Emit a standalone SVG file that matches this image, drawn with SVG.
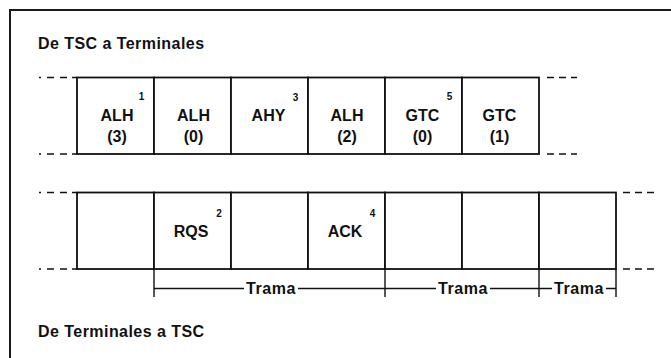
<svg xmlns="http://www.w3.org/2000/svg" width="671" height="358" viewBox="0 0 671 358">
  <style>
    .frame { stroke: #1a1a1a; stroke-width: 2; fill: none; }
    .cell { stroke: #111; stroke-width: 1.8; fill: #fff; }
    .dash { stroke: #111; stroke-width: 1.6; }
    .bracket { stroke: #111; stroke-width: 1.4; fill: none; }
    text { font-family: "Liberation Sans", Arial, sans-serif; font-weight: bold; fill: #111; }
    .title { font-size: 16px; letter-spacing: 0.45px; }
    .lbl { font-size: 16px; text-anchor: middle; }
    .sup { font-size: 10px; text-anchor: middle; }
    .trama { font-size: 16px; text-anchor: middle; letter-spacing: 0.6px; }
  </style>
  <rect width="671" height="358" fill="#fff"/>

  <!-- outer frame: top and left edges only -->
  <g id="frame">
    <path class="frame" d="M10 358 V10 H671"/>
  </g>

  <g id="title-downlink">
    <text class="title" x="38" y="49">De TSC a Terminales</text>
  </g>
  <g id="title-uplink">
    <text class="title" x="38" y="337">De Terminales a TSC</text>
  </g>

  <!-- downlink slots -->
  <g id="down-slot-1">
    <rect class="cell" x="77" y="77.5" width="77" height="76.5"/>
    <text class="lbl" x="117" y="121">ALH</text>
    <text class="lbl" x="117" y="142">(3)</text>
    <text class="sup" x="141.5" y="99.5">1</text>
  </g>
  <g id="down-slot-2">
    <rect class="cell" x="154" y="77.5" width="77" height="76.5"/>
    <text class="lbl" x="193.5" y="121">ALH</text>
    <text class="lbl" x="193.5" y="142">(0)</text>
  </g>
  <g id="down-slot-3">
    <rect class="cell" x="231" y="77.5" width="77" height="76.5"/>
    <text class="lbl" x="268.5" y="121">AHY</text>
    <text class="sup" x="295.5" y="100.5">3</text>
  </g>
  <g id="down-slot-4">
    <rect class="cell" x="308" y="77.5" width="77" height="76.5"/>
    <text class="lbl" x="347" y="121">ALH</text>
    <text class="lbl" x="347" y="142">(2)</text>
  </g>
  <g id="down-slot-5">
    <rect class="cell" x="385" y="77.5" width="77" height="76.5"/>
    <text class="lbl" x="422.5" y="121">GTC</text>
    <text class="lbl" x="422.5" y="142">(0)</text>
    <text class="sup" x="449.5" y="100">5</text>
  </g>
  <g id="down-slot-6">
    <rect class="cell" x="462" y="77.5" width="77" height="76.5"/>
    <text class="lbl" x="499.5" y="121">GTC</text>
    <text class="lbl" x="499.5" y="142">(1)</text>
  </g>

  <!-- uplink slots -->
  <g id="up-slot-1">
    <rect class="cell" x="77" y="192.5" width="77" height="76.5"/>
  </g>
  <g id="up-slot-2">
    <rect class="cell" x="154" y="192.5" width="77" height="76.5"/>
    <text class="lbl" x="191" y="237">RQS</text>
    <text class="sup" x="219" y="216.5">2</text>
  </g>
  <g id="up-slot-3">
    <rect class="cell" x="231" y="192.5" width="77" height="76.5"/>
  </g>
  <g id="up-slot-4">
    <rect class="cell" x="308" y="192.5" width="77" height="76.5"/>
    <text class="lbl" x="345" y="237">ACK</text>
    <text class="sup" x="372.5" y="216.5">4</text>
  </g>
  <g id="up-slot-5">
    <rect class="cell" x="385" y="192.5" width="77" height="76.5"/>
  </g>
  <g id="up-slot-6">
    <rect class="cell" x="462" y="192.5" width="77" height="76.5"/>
  </g>
  <g id="up-slot-7">
    <rect class="cell" x="539" y="192.5" width="77" height="76.5"/>
  </g>

  <!-- continuation dashes and frame brackets -->
  <g id="connectors">
    <g class="dash">
      <path d="M39 77.5 H41 M47 77.5 H54 M60 77.5 H67 M72 77.5 H77"/>
      <path d="M39 154 H41 M47 154 H54 M60 154 H67 M72 154 H77"/>
      <path d="M547 77.5 H554 M559 77.5 H566 M571 77.5 H577"/>
      <path d="M547 154 H554 M559 154 H566 M571 154 H577"/>
      <path d="M39 192.5 H41 M47 192.5 H54 M60 192.5 H67 M72 192.5 H77"/>
      <path d="M39 269 H41 M47 269 H54 M60 269 H67 M72 269 H77"/>
      <path d="M623 192.5 H630 M635 192.5 H642 M647 192.5 H654"/>
      <path d="M623 269 H630 M635 269 H642 M647 269 H654"/>
    </g>
    <g class="bracket">
      <path d="M154 269 V297 M385 269 V297 M539 269 V297 M616 269 V297"/>
      <path d="M154 288.5 H244 M298 288.5 H385 M385 288.5 H436 M490 288.5 H539 M539 288.5 H552 M606 288.5 H616"/>
    </g>
    <text class="trama" x="271" y="293.5">Trama</text>
    <text class="trama" x="463" y="293.5">Trama</text>
    <text class="trama" x="579" y="293.5">Trama</text>
  </g>
</svg>
